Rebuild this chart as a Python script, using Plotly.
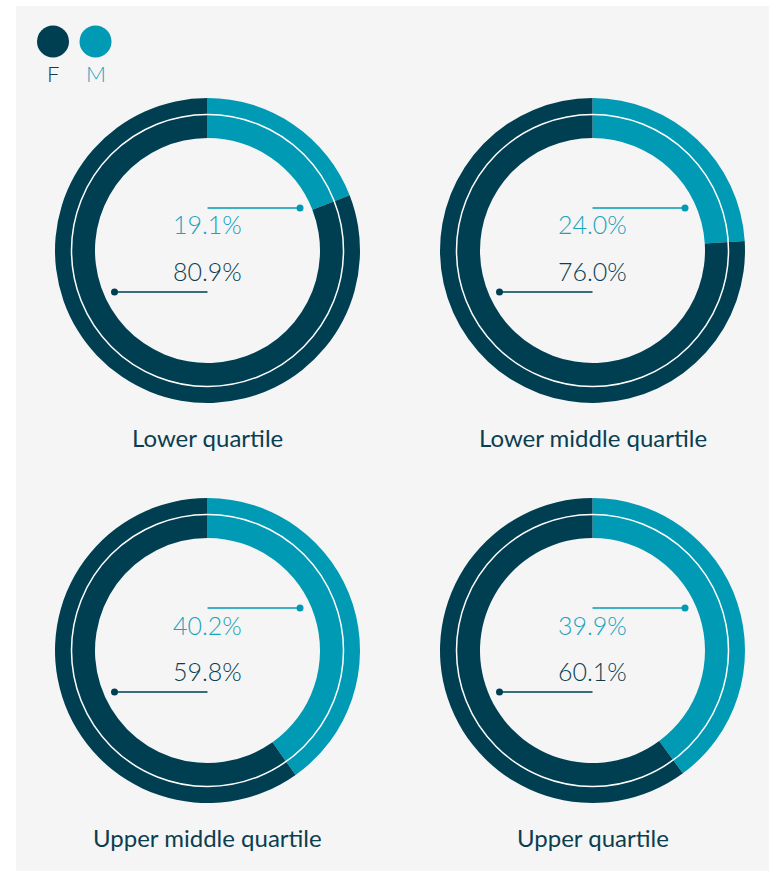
import plotly.graph_objects as go

# ---- data ----
quartiles = ["Lower quartile", "Lower middle quartile", "Upper middle quartile", "Upper quartile"]
male_pct = [19.1, 24.0, 40.2, 39.9]
female_pct = [80.9, 76.0, 59.8, 60.1]
legend_labels = ["F", "M"]

# ---- style ----
W, H = 769, 871
DARK = "#003f51"
TEAL = "#009ab4"
BG = "#f5f5f5"
TXT_DARK = "#0b3e50"
TXT_TEAL = "#1aa3bd"
FONT = "Lato"

centers = [(207.5, 250.5), (592.5, 250.5), (207.5, 650.5), (592.5, 650.5)]
R_OUT, R_IN, R_WHITE = 152.5, 112.5, 136


def px(x):
    return x / W


def py(y):
    return 1 - y / H


fig = go.Figure()
shapes = []
annotations = []

shapes.append(dict(type="rect", xref="paper", yref="paper", x0=px(16), x1=1, y0=0, y1=py(6),
                   fillcolor=BG, line=dict(width=0), layer="below"))

for name, m, f, (cx, cy) in zip(quartiles, male_pct, female_pct, centers):
    fig.add_trace(go.Pie(
        labels=["M", "F"], values=[m, f], sort=False, direction="clockwise", rotation=0,
        hole=R_IN / R_OUT, marker=dict(colors=[TEAL, DARK], line=dict(width=0)),
        textinfo="none", hoverinfo="skip", showlegend=False,
        domain=dict(x=[px(cx - R_OUT), px(cx + R_OUT)], y=[py(cy + R_OUT), py(cy - R_OUT)]),
    ))
    # white separating circle
    shapes.append(dict(type="circle", xref="paper", yref="paper",
                       x0=px(cx - R_WHITE), x1=px(cx + R_WHITE),
                       y0=py(cy + R_WHITE), y1=py(cy - R_WHITE),
                       line=dict(color="white", width=1.5), layer="above"))
    # leader lines
    ym = cy - 42.5
    yf = cy + 41.5
    shapes.append(dict(type="line", xref="paper", yref="paper", x0=px(cx), x1=px(cx + 92),
                       y0=py(ym), y1=py(ym), line=dict(color=TEAL, width=1.5)))
    shapes.append(dict(type="circle", xref="paper", yref="paper", x0=px(cx + 89), x1=px(cx + 96),
                       y0=py(ym + 3.5), y1=py(ym - 3.5), fillcolor=TEAL, line=dict(width=0)))
    shapes.append(dict(type="line", xref="paper", yref="paper", x0=px(cx - 93), x1=px(cx),
                       y0=py(yf), y1=py(yf), line=dict(color=DARK, width=1.5)))
    shapes.append(dict(type="circle", xref="paper", yref="paper", x0=px(cx - 96.5), x1=px(cx - 89.5),
                       y0=py(yf + 3.5), y1=py(yf - 3.5), fillcolor=DARK, line=dict(width=0)))
    annotations.append(dict(x=px(cx), y=py(cy - 26), xref="paper", yref="paper",
                            text=f"{m:.1f}%", showarrow=False, xanchor="center", yanchor="middle",
                            font=dict(family=FONT, size=25, color=TXT_TEAL, weight=300)))
    annotations.append(dict(x=px(cx), y=py(cy + 20), xref="paper", yref="paper",
                            text=f"{f:.1f}%", showarrow=False, xanchor="center", yanchor="middle",
                            font=dict(family=FONT, size=25, color=TXT_DARK, weight=300)))
    annotations.append(dict(x=px(cx), y=py(cy + 187), xref="paper", yref="paper",
                            text=name, showarrow=False, xanchor="center", yanchor="middle",
                            font=dict(family=FONT, size=24, color=TXT_DARK)))

# legend
for lab, col, tcol, lx in zip(legend_labels, [DARK, TEAL], [TXT_DARK, TXT_TEAL], [53, 95.5]):
    shapes.append(dict(type="circle", xref="paper", yref="paper", x0=px(lx - 16), x1=px(lx + 16),
                       y0=py(41.5 + 16), y1=py(41.5 - 16), fillcolor=col, line=dict(width=0)))
    annotations.append(dict(x=px(lx), y=py(73), xref="paper", yref="paper", text=lab,
                            showarrow=False, xanchor="center", yanchor="middle",
                            font=dict(family=FONT, size=22, color=tcol, weight=300)))

fig.update_layout(width=W, height=H, margin=dict(l=0, r=0, t=0, b=0),
                  paper_bgcolor="white", plot_bgcolor="white",
                  shapes=shapes, annotations=annotations, showlegend=False)
fig.write_html("out.html")
